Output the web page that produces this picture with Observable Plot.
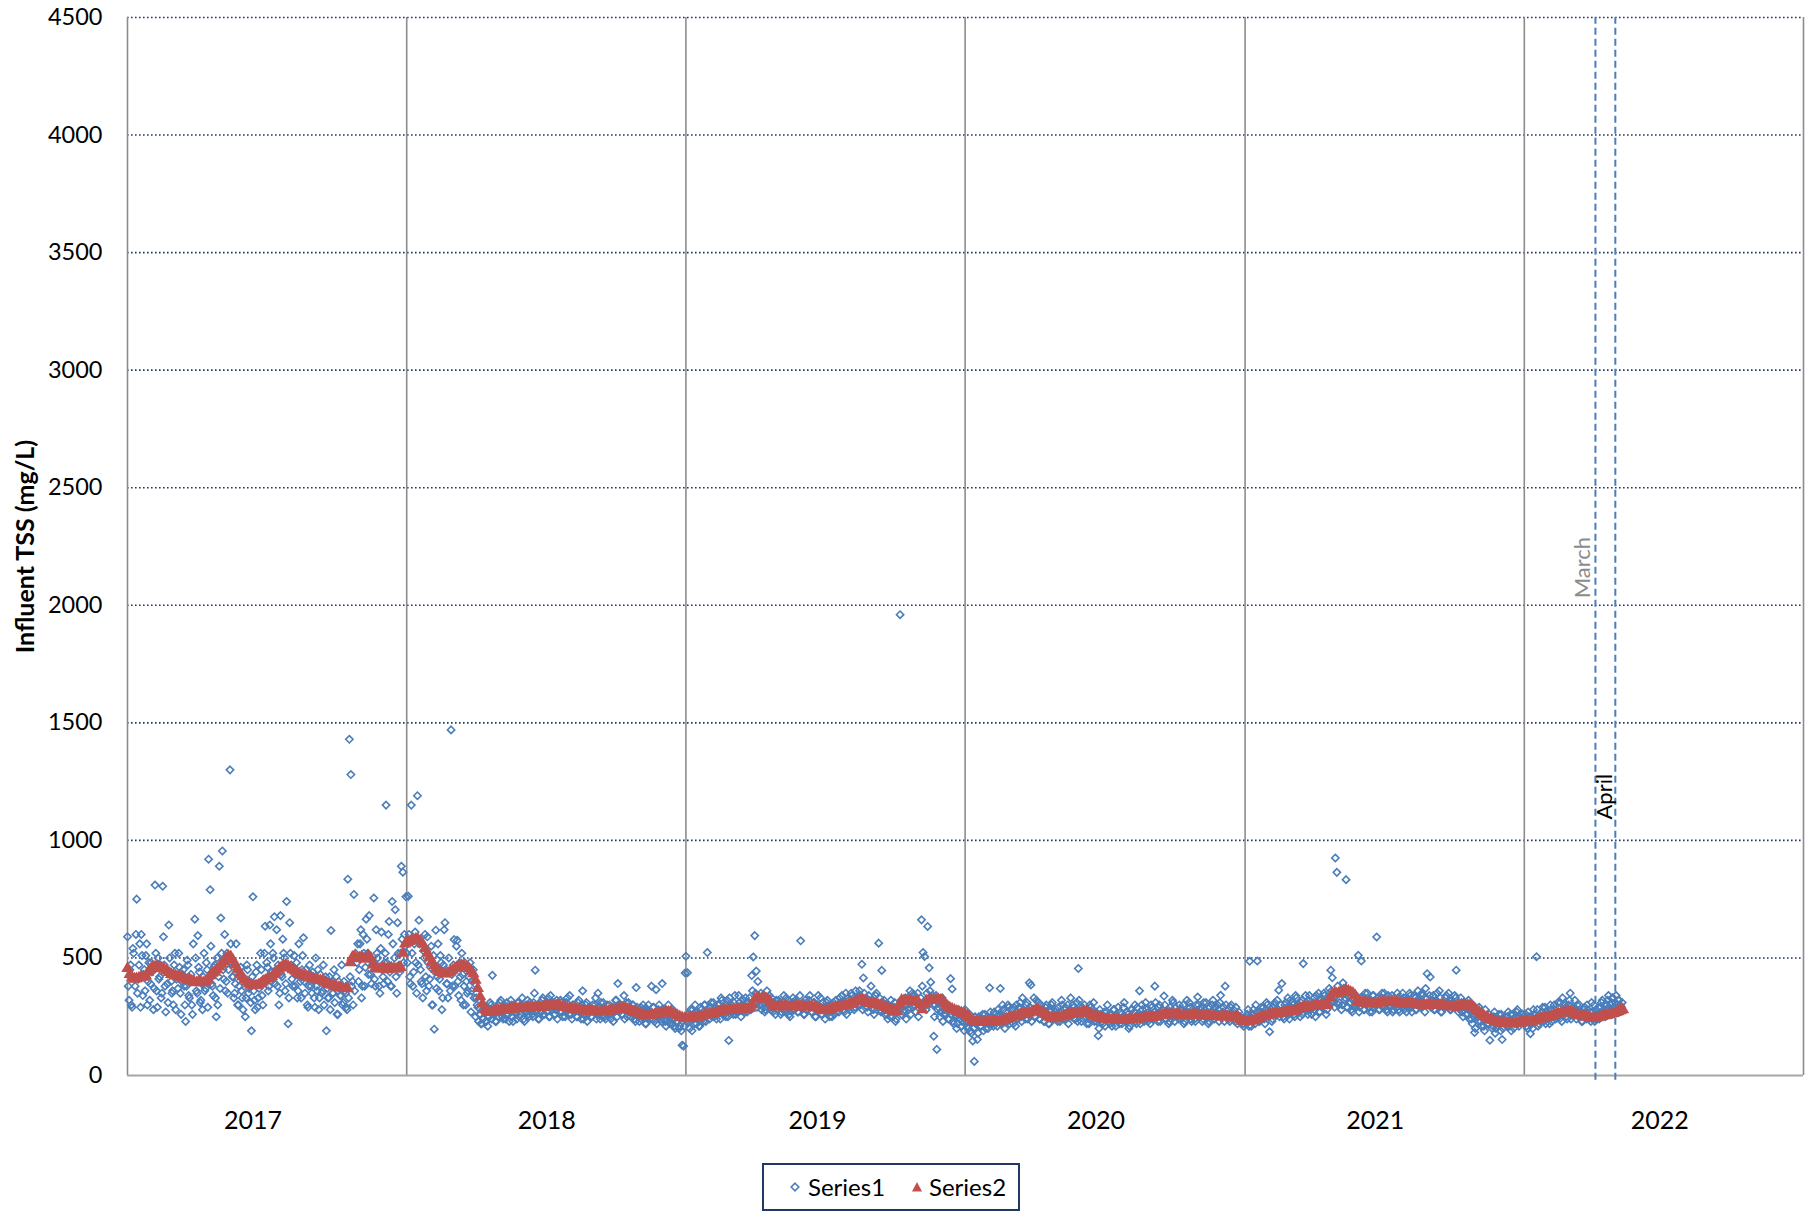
<!DOCTYPE html>
<html>
<head>
<meta charset="utf-8">
<script src="https://cdn.jsdelivr.net/npm/d3@7"></script>
<script src="https://cdn.jsdelivr.net/npm/@observablehq/plot@0.6"></script>
<style>
  html, body { margin: 0; padding: 0; background: #ffffff; }
  body { width: 1814px; height: 1212px; position: relative; font-family: Lato, "Open Sans", sans-serif; }
  #legend { position: absolute; left: 762px; top: 1163px; width: 258px; height: 48px; box-sizing: border-box;
            border: 2px solid #1F3864; font-family: Lato, sans-serif; font-size: 24px; color: #000; }
  #legend .t { position: absolute; top: 50%; transform: translateY(-52%); white-space: nowrap; }
  #legend svg { position: absolute; top: 50%; transform: translateY(-50%); }
</style>
</head>
<body>
<div id="chart"></div>
<div id="legend">
  <svg style="left:24px" width="14" height="14"><path d="M7,3.2L10.8,7L7,10.8L3.2,7Z" fill="none" stroke="#4A7EBB" stroke-width="1.6"/></svg>
  <span class="t" style="left:44px">Series1</span>
  <svg style="left:145px" width="16" height="16"><path d="M8,3L13,12.5L3,12.5Z" fill="#C0504D"/></svg>
  <span class="t" style="left:165px">Series2</span>
</div>
<script>
// ---------- Series1, even days (one value every 2 days from Jan 1 of each year) ----------
const s1_2017 = [590,320,470,290,520,380,750,410,560,600,
340,450,510,300,480,390,440,280,810,360,
500,420,330,805,470,270,390,640,440,350,
300,520,410,370,460,260,430,380,230,490,
340,410,300,560,665,360,595,440,320,280,
520,370,450,920,790,390,340,470,250,300,
890,670,955,410,360,520,450,1300,480,420,
350,560,300,380,460,330,410,250,470,350,
380,190,760,320,440,290,370,520,340,410,
635,480,360,640,400,520,675,450,380,300,
680,420,520,360,740,220,650,470,380,510,
430,330,560,400,450,586,350,420,290,470,
380,440,330,500,360,280,430,350,470,
390,190,330,420,617,350,450,380,260,
400,340,470,310,360,290,835,1430,1280,400,
770,520,480,400,560,330,600,380,
665,520,680,430,470,755,380,520,460,
350,610,420,480,1150,400,655,380,740,460,
705,350,520,440,890,865,600,760];

const s1_2018 = [520,762,420,1150,380,560,480,1190,660,450,
390,530,600,360,480,410,550,300,197,618,
420,360,510,280,470,650,390,330,440,1470,
380,578,450,575,340,420,520,300,480,400,
360,460,270,400,330,250,300,230,260,220,
240,280,230,210,250,300,426,260,230,290,
250,310,270,240,300,260,280,230,320,250,
290,270,240,310,260,300,280,230,270,320,
250,290,260,310,448,280,240,300,270,330,
260,290,310,250,340,280,300,260,320,290,
270,310,250,300,280,330,260,290,240,300,
270,250,310,280,240,360,260,300,230,270,
290,250,280,300,240,350,260,310,250,280,
240,300,270,260,290,230,280,320,391,270,
300,260,340,280,250,310,290,270,300,240,
374,260,230,290,250,280,220,270,300,240,
380,290,230,365,250,300,240,391,280,230,
260,300,220,250,280,210,260,230,200,250,
129,125,436];

const s1_2019 = [507,437,230,280,190,250,300,220,260,210,
280,240,300,230,523,260,290,250,310,270,
240,300,280,330,260,290,250,320,149,280,
300,260,340,270,290,310,250,300,280,330,
270,310,290,425,504,595,444,400,320,350,
300,340,280,360,310,290,330,270,300,320,
280,310,260,300,340,270,290,320,250,300,
330,280,310,270,300,573,290,260,320,280,
300,340,270,290,310,250,300,280,330,260,
290,240,310,270,250,300,280,260,320,290,
270,310,340,280,300,260,330,290,350,310,
280,360,320,300,340,473,415,290,330,270,
310,380,290,260,340,300,563,280,447,310,
260,300,240,280,320,250,290,230,270,300,
1960,260,310,280,240,330,290,260,350,300,
270,320,250,300,662,523,506,280,634,458,
397,340,167,300,111,290,250,320,230,280,
260,300,240,412,368,220,260,200,280,240,
210,250,190];

const s1_2020 = [280,230,200,260,180,147,60,220,153,250,
210,240,190,260,230,200,373,250,220,270,
240,210,260,370,230,280,200,250,300,220,
260,240,290,210,270,250,310,230,280,260,
300,240,394,385,270,330,250,290,310,240,
280,260,230,300,250,220,280,310,240,270,
260,290,230,320,250,280,240,300,270,330,
260,290,240,310,455,270,230,280,300,250,
270,220,290,240,310,260,230,169,280,250,
220,270,240,300,230,260,210,280,240,250,
290,220,260,240,310,230,270,200,250,280,
240,300,220,260,360,240,280,230,310,250,
270,220,290,240,380,260,230,300,250,280,
338,240,270,220,290,260,310,230,270,250,
300,240,280,220,260,320,250,290,230,270,
240,300,334,260,280,230,310,250,270,220,
290,250,320,240,270,300,230,341,260,290,
380,250,280,230,300,260,240,290,220,270,
250,230,210];

const s1_2021 = [250,220,280,486,210,260,240,300,487,230,
270,250,290,220,310,260,186,280,240,300,
260,320,363,270,391,250,300,280,330,240,
290,310,260,340,280,300,250,320,476,290,
310,260,340,280,300,330,250,290,350,270,
310,290,340,260,300,370,448,416,330,925,
864,300,350,280,394,320,833,290,360,310,
270,340,300,320,511,290,487,330,280,310,
350,290,320,270,340,300,589,310,280,330,
290,350,310,270,320,300,340,280,310,290,
330,270,300,350,280,320,290,310,340,270,
300,330,280,360,310,290,340,300,370,433,
310,419,290,340,280,320,300,360,270,310,
290,330,300,350,280,320,300,340,448,310,
290,330,270,310,300,260,320,280,240,300,
183,270,250,290,230,260,210,280,240,220,
150,250,210,270,200,240,260,190,153,230,
250,210,270,230,190,260,220,250,280,210,
240,260,230];

const s1_2022 = [230,260,200,250,178,220,280,240,505,210,
260,230,290,250,220,270,240,300,230,260,
280,250,310,240,270,330,260,290,240,300,
350,260,280,320,240,270,300,250,230,280,
260,300,240,270,310,250,230,280,260,240,
290,320,270,250,300,340,280,310,330,290,
340,300,320,290,310];

// ---------- Series1, odd days (one value every 2 days from Jan 2 of each year) ----------
const s1b_2017 = [380,450,300,540,420,600,350,470,290,510,
430,360,560,400,320,480,450,370,520,290,
410,470,350,590,380,440,310,500,400,360,
470,280,420,520,350,400,450,300,380,470,
330,430,260,400,500,350,460,310,390,420,
360,480,290,410,550,380,460,330,500,420,
370,520,450,600,400,350,480,560,420,330,
390,450,300,420,360,280,400,330,450,370,
310,420,360,280,470,330,390,450,300,520,
410,460,380,560,440,500,390,620,470,350,
430,580,500,390,460,330,520,410,450,380,
480,360,420,330,510,400,450,300,380,430,
350,410,290,380,450,330,400,360,300,420,
370,330,280,400,350,310,420,260,380,340,
300,400,350,280,330,420,380,300,360,500,
560,450,620,380,520,460,580,430,500,390,
480,410,620,500,380,540,450,390,520,480,
600,440,380,560,500,420,650,470,520,580,
480,550];

const s1b_2018 = [480,600,390,520,440,610,350,470,560,400,
330,500,420,590,380,460,300,510,440,370,
560,410,480,330,620,450,390,500,360,430,
470,380,550,400,480,320,430,380,300,350,
420,480,360,450,390,330,290,260,220,300,
270,230,290,250,310,240,280,260,230,300,
270,320,250,290,240,310,260,280,300,230,
280,260,310,250,290,330,240,270,300,260,
310,280,250,350,270,300,240,290,320,260,
300,270,330,250,290,310,260,280,240,300,
320,270,290,250,310,280,340,260,300,270,
290,250,320,270,300,240,280,310,260,290,
250,300,270,330,260,290,240,280,310,250,
280,260,300,240,290,270,320,250,280,300,
260,290,240,310,270,280,250,300,260,230,
290,250,270,240,300,260,220,280,250,270,
240,290,260,220,280,250,230,270,240,210,
250,230,260,220,240,200,230,250,210,190,
230,210];

const s1b_2019 = [230,260,200,250,280,220,270,240,210,290,
250,230,300,260,280,240,310,270,250,290,
270,300,240,320,280,260,300,250,330,290,
270,310,260,290,340,280,300,320,270,310,
290,330,280,360,310,350,290,330,300,280,
310,270,320,300,340,280,310,290,260,300,
320,290,270,310,280,330,300,260,290,310,
280,320,300,270,340,290,310,260,300,280,
320,290,270,310,250,300,340,280,260,310,
290,270,320,300,280,250,310,290,270,300,
330,290,310,270,350,300,320,280,340,310,
290,330,300,360,320,280,350,310,290,340,
300,320,280,310,350,290,330,270,300,320,
280,260,300,250,290,270,310,240,280,300,
320,290,270,330,300,280,360,310,290,340,
310,350,300,330,380,290,320,350,300,360,
330,300,250,340,280,310,270,330,260,300,
280,240,290,260,230,270,250,220,260,240,
230,250];

const s1b_2020 = [260,210,240,190,230,200,250,220,180,240,
210,260,230,200,250,220,270,240,210,260,
230,280,250,220,300,240,270,230,290,250,
280,220,260,300,240,290,250,330,270,240,
310,260,290,230,280,250,320,270,240,300,
260,230,290,250,220,270,300,240,260,280,
230,270,250,300,240,290,260,220,280,250,
300,240,270,230,320,260,290,240,270,220,
260,300,240,280,230,270,250,200,260,230,
250,210,270,240,220,260,230,280,210,250,
240,270,220,290,250,230,260,210,280,240,
270,230,290,250,220,300,260,240,280,230,
260,300,240,270,310,250,290,230,270,260,
300,240,280,230,270,320,250,290,260,240,
280,250,300,230,270,250,310,240,280,260,
230,270,300,250,290,240,280,310,260,230,
270,300,240,290,260,280,310,250,270,230,
300,260,240,290,250,280,230,260,240,250,
230,220];

const s1b_2021 = [230,260,210,250,240,280,220,270,250,230,
290,260,240,280,300,250,270,230,290,310,
260,280,250,300,270,240,310,290,260,320,
280,300,250,330,290,270,310,260,300,340,
280,320,290,260,310,280,340,300,270,320,
290,350,310,280,330,300,360,320,290,340,
380,310,350,300,370,330,290,340,310,280,
320,290,340,300,270,330,310,280,350,300,
320,270,310,340,290,300,330,280,310,350,
300,320,280,340,290,310,270,330,300,350,
280,310,290,330,300,270,320,350,290,310,
340,280,300,320,290,350,310,270,330,300,
340,290,320,280,310,350,300,330,270,310,
290,340,300,320,280,310,290,330,300,270,
280,310,250,290,260,300,240,270,220,250,
200,260,230,270,210,240,190,250,220,260,
230,200,250,180,240,210,230,260,200,240,
220,250,210,260,230,200,240,270,220,250,
230,260];

const s1b_2022 = [240,210,270,230,250,200,260,230,280,220,
250,270,230,290,240,260,220,280,250,300,
240,270,260,310,230,280,300,250,270,320,
240,290,260,280,300,250,270,230,260,290,
240,280,250,230,270,300,260,240,290,250,
310,270,300,280,320,260,300,330,290,310,
280,320,300,290];

// ---------- Series2 (moving average, one value every 3 days from Jan 1 of each year) ----------
const s2_2017 = [455,430,415,410,412,415,420,418,425,440,
452,460,462,465,460,455,452,445,438,430,
428,425,420,418,415,410,405,410,402,398,
395,400,397,395,400,410,425,435,440,450,
462,475,485,498,508,505,490,470,452,435,
420,408,398,390,385,383,382,385,390,398,
405,412,415,420,430,440,452,460,468,470,
465,458,450,445,440,432,428,425,420,418,
415,412,410,405,405,403,398,392,388,384,
380,378,375,372,370,369,370,480,503,505,
498,500,505,495,500,510,500,470,458,455,
452,455,458,450,455,458,455,452,456,460,
520,560];

const s2_2018 = [565,570,575,578,581,578,572,560,540,520,
503,485,468,452,445,438,433,432,436,442,
448,455,460,465,468,466,462,455,445,433,
405,370,335,305,280,270,268,272,274,276,
275,278,280,279,282,283,282,284,284,285,
286,285,287,288,287,289,290,291,292,290,
292,294,296,297,298,298,296,294,292,290,
288,286,284,282,280,279,277,276,275,274,
273,273,272,272,271,272,272,273,274,276,
278,280,282,284,285,284,283,280,276,272,
268,264,260,258,256,255,255,257,259,261,
263,266,268,270,270,268,264,260,255,250,
246,243];

const s2_2019 = [243,242,244,245,246,248,250,252,255,258,
260,262,264,268,270,272,274,276,278,279,
280,279,280,281,282,282,283,284,286,300,
325,330,329,328,330,326,322,310,298,293,
292,294,293,295,294,293,292,294,295,293,
292,294,293,292,294,293,291,288,284,280,
277,276,277,280,284,288,291,293,294,296,
298,302,306,310,314,318,320,322,318,312,
308,305,303,301,300,299,296,290,285,280,
276,273,272,300,320,318,316,315,316,314,
315,316,300,280,305,318,320,322,321,322,
323,321,318,305,295,288,283,278,274,270,
267,264];

const s2_2020 = [262,255,245,235,228,226,227,228,227,229,
228,227,228,229,230,230,233,236,240,243,
246,249,252,255,258,260,262,263,266,270,
274,278,276,272,267,260,252,246,243,242,
245,248,250,253,256,258,260,262,263,264,
266,268,270,270,266,260,255,250,246,243,
242,241,240,239,238,237,236,236,235,235,
235,236,237,238,240,241,242,244,245,246,
246,247,248,250,252,254,256,258,260,261,
261,260,259,258,257,257,256,256,256,257,
258,257,256,255,254,253,252,252,251,251,
250,250,250,249,250,250,249,249,249,248,
238,230];

const s2_2021 = [230,230,231,232,234,238,243,248,252,255,
257,258,260,262,264,265,266,268,269,270,
271,274,278,282,285,288,290,292,293,294,
295,296,297,298,299,299,300,330,348,350,
348,352,356,360,363,360,355,350,340,315,
312,310,309,308,307,306,306,307,308,309,
310,311,312,313,312,311,310,309,308,307,
306,305,304,303,302,301,300,300,299,299,
299,300,300,299,299,298,297,296,295,294,
293,292,292,293,295,297,298,299,298,292,
284,276,270,262,255,248,242,237,234,230,
227,225,223,222,221,221,222,222,223,224,
224,225];

const s2_2022 = [226,227,228,230,232,235,238,241,243,245,
248,251,254,257,260,263,266,269,271,272,
270,266,262,258,256,254,252,249,246,244,
243,244,246,248,251,254,256,259,262,264,
268,272,276,280];

// ---------- axes, guides, annotations ----------
const years = [2017, 2018, 2019, 2020, 2021, 2022];
const yearLabelDates = ["2017-06-14", "2018-07-03", "2019-06-22", "2020-06-20", "2021-06-20", "2022-06-27"];
const yTicks = [0, 500, 1000, 1500, 2000, 2500, 3000, 3500, 4000, 4500];
const yGrid = [500, 1000, 1500, 2000, 2500, 3000, 3500, 4000, 4500];
const yearBoundaries = ["2017-01-01", "2018-01-01", "2019-01-01", "2020-01-01", "2021-01-01", "2022-01-01", "2023-01-01"];
const monthLineDates = ["2022-04-04", "2022-04-30"];
const noteLabels = ["March", "April"];
const noteDates = ["2022-03-19", "2022-04-17"];
const noteValues = [2160, 1186];
const yTitle = "Influent TSS (mg/L)";

// ---------- build tables ----------
function build(arrays, step, offset) {
  const out = [];
  arrays.forEach((arr, k) => {
    arr.forEach((v, i) => out.push({date: new Date(Date.UTC(years[k], 0, 1 + offset + step * i)), v}));
  });
  return out;
}
const series1 = build([s1_2017, s1_2018, s1_2019, s1_2020, s1_2021, s1_2022], 2, 0)
  .concat(build([s1b_2017, s1b_2018, s1b_2019, s1b_2020, s1b_2021, s1b_2022], 2, 1))
  .sort((a, b) => a.date - b.date);
const series2 = build([s2_2017, s2_2018, s2_2019, s2_2020, s2_2021, s2_2022], 3, 0);
const labelTicks = yearLabelDates.map(d => new Date(d));
const boundaries = yearBoundaries.map(d => new Date(d));
const monthLines = monthLineDates.map(d => new Date(d));
const notes = noteLabels.map((t, i) => ({label: t, date: new Date(noteDates[i]), v: noteValues[i]}));

const chart = Plot.plot({
  width: 1814,
  height: 1150,
  marginLeft: 127,
  marginRight: 11,
  marginTop: 17,
  marginBottom: 75,
  style: {fontFamily: "Lato, 'Open Sans', sans-serif", background: "#ffffff", color: "#000"},
  x: {type: "utc", domain: [new Date("2017-01-01"), new Date("2023-01-01")]},
  y: {domain: [0, 4500]},
  marks: [
    Plot.ruleY(yGrid, {stroke: "#1F3864", strokeWidth: 1.6, strokeDasharray: "1.6,2.4"}),
    Plot.ruleX(boundaries, {y1: 0, y2: 4500, stroke: "#8C8C8C", strokeWidth: 1.6}),
    Plot.ruleY([0], {stroke: "#A6A6A6", strokeWidth: 2}),
    Plot.ruleX(monthLines, {y1: -20, y2: 4500, stroke: "#4A7EBB", strokeWidth: 2, strokeDasharray: "7,4"}),
    Plot.axisY({ticks: yTicks, tickSize: 0, tickPadding: 25, fontSize: 23.5, label: null, tickFormat: d => String(d)}),
    Plot.axisX({ticks: labelTicks, tickSize: 0, tickPadding: 36, fontSize: 25, label: null, tickFormat: d3.utcFormat("%Y")}),
    Plot.text([yTitle], {frameAnchor: "left", textAnchor: "middle", lineAnchor: "middle", dx: -102, rotate: -90, fontWeight: "bold", fontSize: 25, fill: "#000"}),
    Plot.dot(series1, {x: "date", y: "v", symbol: "diamond2", r: 3.3, stroke: "#4A7EBB", strokeWidth: 1.6}),
    Plot.dot(series2, {x: "date", y: "v", symbol: "triangle", r: 4.6, fill: "#C0504D", stroke: "none"}),
    Plot.text(notes.slice(0, 1), {x: "date", y: "v", text: "label", rotate: -90, fontSize: 22, fill: "#8C8C8C"}),
    Plot.text(notes.slice(1, 2), {x: "date", y: "v", text: "label", rotate: -90, fontSize: 22, fill: "#000"})
  ]
});
document.getElementById("chart").appendChild(chart);
</script>
</body>
</html>
